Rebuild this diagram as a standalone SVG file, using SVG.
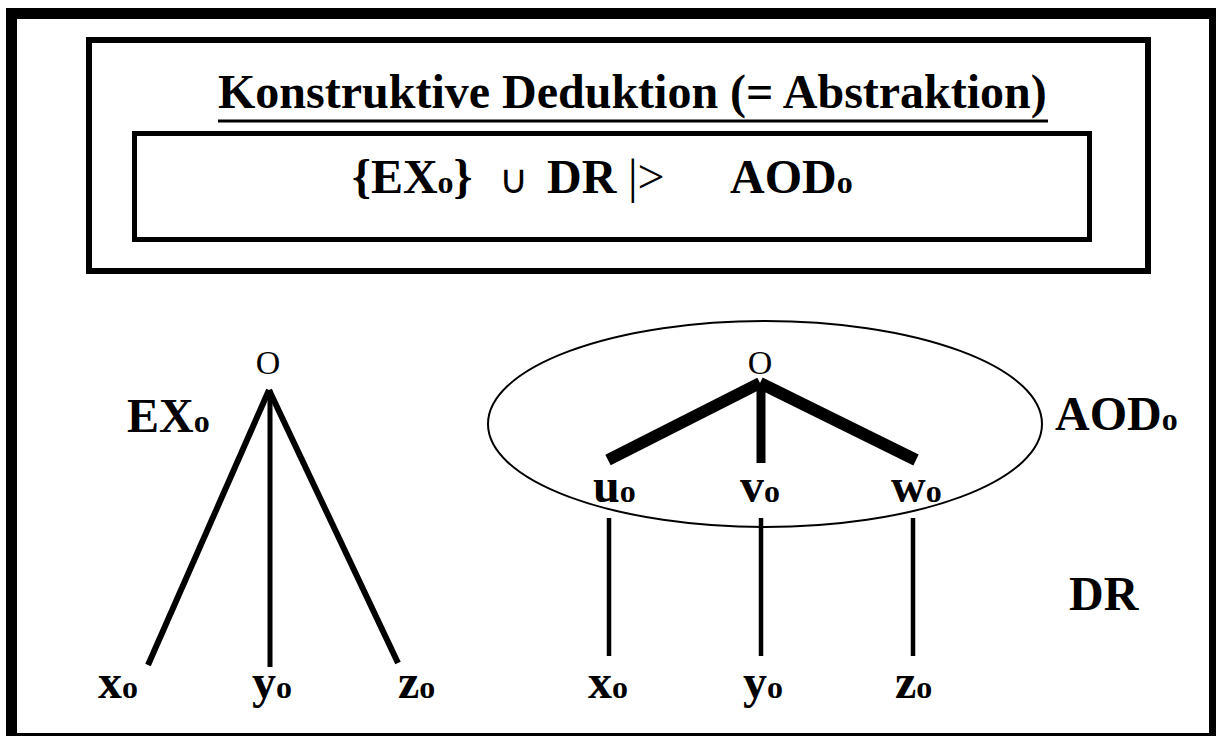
<svg xmlns="http://www.w3.org/2000/svg" width="1216" height="736" viewBox="0 0 1216 736">
<style>
  .t { font-family: "Liberation Serif", "Times New Roman", serif; font-weight: bold; font-size: 48px; fill: #000; }
  .sub { font-size: 32px; }
  .reg { font-family: "Liberation Serif", "Times New Roman", serif; font-weight: normal; font-size: 32px; fill: #000; }
  .node-o { font-size: 34px; }
  .frame { fill: none; stroke: #000; }
  .edge { stroke: #000; fill: none; stroke-linecap: butt; }
</style>
<rect x="0" y="0" width="1216" height="736" fill="#fff"/>
<rect class="frame" x="11.5" y="13.5" width="1203" height="725" stroke-width="11"/>
<g id="title-box">
  <rect class="frame" x="89" y="40" width="1059" height="231" stroke-width="6"/>
  <text class="t" x="218" y="108">Konstruktive Deduktion (= Abstraktion)</text>
  <line x1="218" y1="121" x2="1048" y2="121" stroke="#000" stroke-width="3"/>
</g>
<g id="formula-box">
  <rect class="frame" x="134.5" y="133.5" width="955" height="106" stroke-width="5"/>
  <text class="t" x="352" y="193">{EX<tspan class="sub">o</tspan>}</text>
  <text class="reg" x="499" y="193" style="font-size:40px">∪</text>
  <text class="t" x="547" y="193">DR</text>
  <text class="reg" x="628" y="193" style="font-size:48px">|&gt;</text>
  <text class="t" x="730" y="193">AOD<tspan class="sub">o</tspan></text>
</g>
<g id="connectors">
  <line class="edge" x1="269" y1="390" x2="148" y2="665" stroke-width="6"/>
  <line class="edge" x1="270" y1="390" x2="270" y2="667" stroke-width="5"/>
  <line class="edge" x1="269" y1="390" x2="398" y2="663" stroke-width="6"/>
  <line class="edge" x1="760" y1="383" x2="608" y2="460" stroke-width="12"/>
  <line class="edge" x1="760" y1="383" x2="916" y2="460" stroke-width="12"/>
  <line class="edge" x1="761" y1="388" x2="761" y2="463" stroke-width="9"/>
  <line class="edge" x1="609" y1="518" x2="609" y2="656" stroke-width="4.5"/>
  <line class="edge" x1="761" y1="518" x2="761" y2="656" stroke-width="4.5"/>
  <line class="edge" x1="913" y1="518" x2="913" y2="656" stroke-width="4.5"/>
</g>
<g id="ex-tree">
  <text class="reg node-o" x="268" y="374" text-anchor="middle">O</text>
  <text class="t" x="127" y="432">EX<tspan class="sub">o</tspan></text>
  <text class="t" x="98" y="698">x<tspan class="sub">o</tspan></text>
  <text class="t" x="252" y="698">y<tspan class="sub">o</tspan></text>
  <text class="t" x="398" y="698">z<tspan class="sub">o</tspan></text>
</g>
<g id="aod-tree">
  <ellipse cx="765" cy="424" rx="277" ry="103" fill="none" stroke="#000" stroke-width="2"/>
  <text class="reg node-o" x="760" y="374" text-anchor="middle">O</text>
  <text class="t" x="593" y="502">u<tspan class="sub">o</tspan></text>
  <text class="t" x="740" y="502">v<tspan class="sub">o</tspan></text>
  <text class="t" x="891" y="502">w<tspan class="sub">o</tspan></text>
  <text class="t" x="1055" y="430">AOD<tspan class="sub">o</tspan></text>
</g>
<g id="dr">
  <text class="t" x="588" y="698">x<tspan class="sub">o</tspan></text>
  <text class="t" x="743" y="698">y<tspan class="sub">o</tspan></text>
  <text class="t" x="895" y="698">z<tspan class="sub">o</tspan></text>
  <text class="t" x="1069" y="610">DR</text>
</g>
</svg>
